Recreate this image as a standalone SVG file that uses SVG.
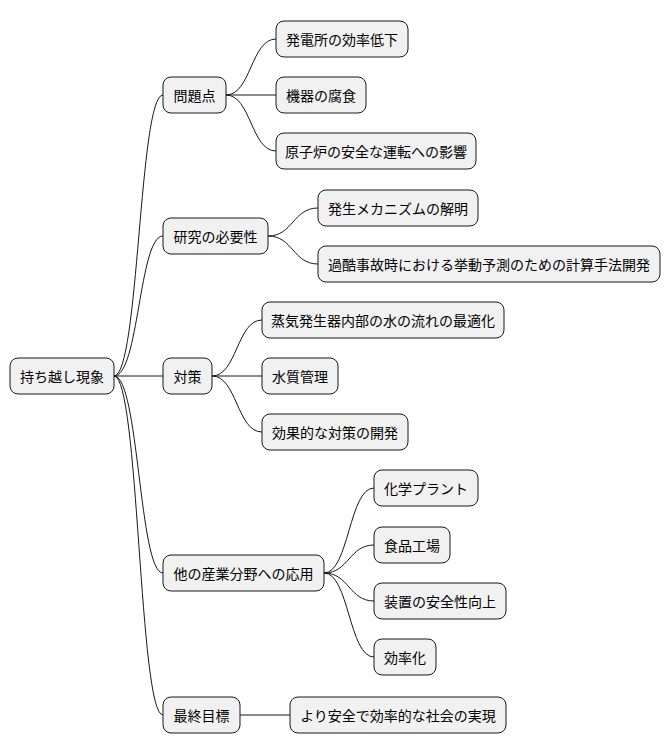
<svg xmlns="http://www.w3.org/2000/svg" width="670" height="752" viewBox="0 0 670 752">
<style>
.n rect{fill:#F1F1F1;stroke:#181818;stroke-width:1}
.n text{font-family:"Noto Sans CJK JP","Liberation Sans",sans-serif;font-size:14px;fill:#000;text-anchor:middle;dominant-baseline:central}
.c path{fill:none;stroke:#181818;stroke-width:1}
</style>
<rect width="670" height="752" fill="#fff"/>
<g class="c">
<path d="M114 376 C139 376 139 95 163 95"/>
<path d="M114 376 C139 376 139 236 163 236"/>
<path d="M114 376 L163 376"/>
<path d="M114 376 C139 376 139 573 163 573"/>
<path d="M114 376 C139 376 139 715 163 715"/>
<path d="M226 95 C251 95 251 39 276 39"/>
<path d="M226 95 L276 95"/>
<path d="M226 95 C251 95 251 151 276 151"/>
<path d="M268 236 C293 236 293 208 318 208"/>
<path d="M268 236 C293 236 293 264 318 264"/>
<path d="M212 376 C237 376 237 320 262 320"/>
<path d="M212 376 L262 376"/>
<path d="M212 376 C237 376 237 432 262 432"/>
<path d="M324 573 C349 573 349 488 374 488"/>
<path d="M324 573 C349 573 349 545 374 545"/>
<path d="M324 573 C349 573 349 601 374 601"/>
<path d="M324 573 C349 573 349 657 374 657"/>
<path d="M240 715 L290 715"/>
</g>
<g class="n" id="root"><rect x="10" y="358" width="104" height="36" rx="8"/><text x="62" y="376">持ち越し現象</text></g>
<g class="n" id="n1"><rect x="163" y="77" width="63" height="36" rx="8"/><text x="194.5" y="95">問題点</text></g>
<g class="n" id="n2"><rect x="163" y="218" width="105" height="36" rx="8"/><text x="215.5" y="236">研究の必要性</text></g>
<g class="n" id="n3"><rect x="163" y="358" width="49" height="36" rx="8"/><text x="187.5" y="376">対策</text></g>
<g class="n" id="n4"><rect x="163" y="555" width="161" height="36" rx="8"/><text x="243.5" y="573">他の産業分野への応用</text></g>
<g class="n" id="n5"><rect x="163" y="697" width="77" height="36" rx="8"/><text x="201.5" y="715">最終目標</text></g>
<g class="n" id="n11"><rect x="276" y="21" width="132" height="36" rx="8"/><text x="342" y="39">発電所の効率低下</text></g>
<g class="n" id="n12"><rect x="276" y="77" width="90" height="36" rx="8"/><text x="321" y="95">機器の腐食</text></g>
<g class="n" id="n13"><rect x="276" y="133" width="200" height="36" rx="8"/><text x="376" y="151">原子炉の安全な運転への影響</text></g>
<g class="n" id="n21"><rect x="318" y="190" width="160" height="36" rx="8"/><text x="398" y="208">発生メカニズムの解明</text></g>
<g class="n" id="n22"><rect x="318" y="246" width="342" height="36" rx="8"/><text x="489" y="264">過酷事故時における挙動予測のための計算手法開発</text></g>
<g class="n" id="n31"><rect x="262" y="302" width="242" height="36" rx="8"/><text x="383" y="320">蒸気発生器内部の水の流れの最適化</text></g>
<g class="n" id="n32"><rect x="262" y="358" width="76" height="36" rx="8"/><text x="300" y="376">水質管理</text></g>
<g class="n" id="n33"><rect x="262" y="414" width="146" height="36" rx="8"/><text x="335" y="432">効果的な対策の開発</text></g>
<g class="n" id="n41"><rect x="374" y="470" width="104" height="36" rx="8"/><text x="426" y="488">化学プラント</text></g>
<g class="n" id="n42"><rect x="374" y="527" width="76" height="36" rx="8"/><text x="412" y="545">食品工場</text></g>
<g class="n" id="n43"><rect x="374" y="583" width="132" height="36" rx="8"/><text x="440" y="601">装置の安全性向上</text></g>
<g class="n" id="n44"><rect x="374" y="639" width="62" height="36" rx="8"/><text x="405" y="657">効率化</text></g>
<g class="n" id="n51"><rect x="290" y="697" width="216" height="36" rx="8"/><text x="398" y="715">より安全で効率的な社会の実現</text></g>
</svg>
